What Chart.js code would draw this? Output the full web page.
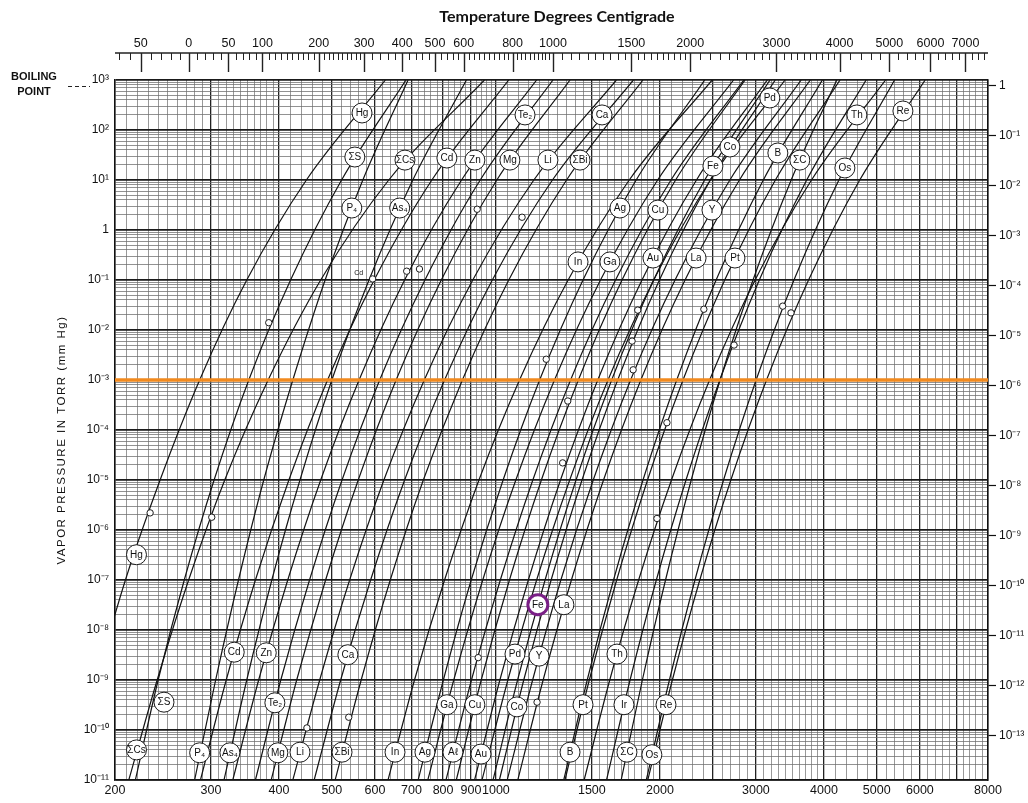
<!DOCTYPE html>
<html>
<head>
<meta charset="utf-8">
<script src="https://cdn.jsdelivr.net/npm/chart.js@4.4.0/dist/chart.umd.min.js"></script>
<style>
  html, body { margin: 0; padding: 0; background: #fff; }
  canvas { display: block; }
</style>
</head>
<body>
<canvas id="chart" width="1028" height="803"></canvas>
<script>
// pressures (torr) at which the temperature of every curve was read
const levels = [1e-11, 1e-9, 1e-7, 1e-5, 1e-3, 1e-1, 1e1, 1e3];

// temperature in K of each element at the pressures above
const tHg  = [166, 185, 209, 242, 286, 349, 449, 627];
const tS   = [218, 240, 268, 304, 352, 420, 521, 684];
const tCs  = [212, 239, 273, 318, 382, 477, 636, 953];
const tP4  = [280, 306, 337, 375, 424, 486, 570, 690];
const tAs4 = [317, 349, 388, 437, 500, 585, 704, 883];
const tCd  = [287, 320, 362, 417, 491, 598, 763, 1056];
const tZn  = [329, 367, 415, 477, 561, 680, 865, 1188];
const tTe2 = [362, 403, 455, 522, 612, 741, 936, 1273];
const tMg  = [387, 431, 487, 559, 656, 794, 1004, 1368];
const tLi  = [424, 475, 539, 623, 739, 907, 1174, 1664];
const tBi  = [507, 566, 640, 736, 868, 1056, 1348, 1862];
const tCa  = [464, 519, 589, 680, 805, 985, 1270, 1788];
const tIn  = [634, 709, 805, 931, 1105, 1357, 1757, 2494];
const tAg  = [720, 801, 901, 1031, 1203, 1445, 1809, 2417];
const tGa  = [750, 837, 946, 1088, 1281, 1556, 1981, 2730];
const tAl  = [810, 902, 1019, 1169, 1371, 1658, 2096, 2851];
const tCu  = [846, 940, 1059, 1212, 1417, 1704, 2137, 2866];
const tAu  = [914, 1017, 1147, 1314, 1538, 1854, 2334, 3148];
const tPd  = [943, 1052, 1188, 1366, 1606, 1948, 2475, 3394];
const tY   = [1049, 1168, 1316, 1509, 1767, 2132, 2688, 3633];
const tFe  = [988, 1096, 1231, 1403, 1631, 1948, 2417, 3185];
const tLa  = [1097, 1221, 1376, 1576, 1845, 2224, 2799, 3776];
const tCo  = [1015, 1125, 1263, 1439, 1673, 1996, 2475, 3256];
const tB   = [1332, 1471, 1644, 1862, 2147, 2536, 3096, 3973];
const tPt  = [1339, 1484, 1666, 1898, 2205, 2630, 3258, 4281];
const tTh  = [1452, 1618, 1828, 2100, 2467, 2990, 3795, 5190];
const tIr  = [1596, 1763, 1970, 2233, 2576, 3044, 3719, 4780];
const tC   = [1698, 1857, 2048, 2283, 2579, 2964, 3483, 4223];
const tOs  = [1888, 2082, 2319, 2617, 3003, 3524, 4261, 5391];
const tRe  = [1900, 2108, 2367, 2699, 3138, 3748, 4653, 6135];

const curves = [tHg, tS, tCs, tP4, tAs4, tCd, tZn, tTe2, tMg, tLi, tBi, tCa, tIn, tAg, tGa,
                tAl, tCu, tAu, tPd, tY, tFe, tLa, tCo, tB, tPt, tTh, tIr, tC, tOs, tRe];

// circled element names: text, temperature (K), pressure (torr)
const tagText = ['Hg','ΣS','ΣCs','P₄','As₄','Cd','Zn','Te₂','Mg','Li','Ca','ΣBi','In','Ag','Ga','Aℓ','Cu','Au',
                 'Pd','Y','Fe','La','Co','B','Pt','Th','Ir','ΣC','Os','Re',
                 'Hg','Te₂','Ca','Pd','Th','Re','ΣS','ΣCs','Cd','Zn','Mg','Li','ΣBi','Co','Fe','B','ΣC','Os',
                 'P₄','As₄','Ag','Cu','Y','In','Ga','Au','La','Pt'];
const tagT = [219, 246, 219, 286, 325, 331, 379, 393, 398, 437, 535, 522, 653, 741, 813, 834, 915, 939,
              1084, 1200, 1194, 1333, 1093, 1368, 1445, 1668, 1718, 1740, 1933, 2052,
              568, 1131, 1566, 3182, 4597, 5584, 551, 681, 813, 915, 1061, 1246, 1427, 2688, 2502, 3292, 3612, 4370,
              544, 666, 1689, 1983, 2492, 1415, 1619, 1942, 2330, 2746];
const tagP = [3.2e-7, 3.6e-10, 4e-11, 3.5e-11, 3.5e-11, 3.6e-9, 3.5e-9, 3.5e-10, 3.5e-11, 3.6e-11, 3.2e-9, 3.6e-11,
              3.6e-11, 3.6e-11, 3.2e-10, 3.6e-11, 3.2e-10, 3.3e-11,
              3.3e-9, 3.0e-9, 3.2e-8, 3.2e-8, 2.9e-10, 3.6e-11, 3.2e-10, 3.3e-9, 3.2e-10, 3.6e-11, 3.2e-11, 3.2e-10,
              219, 200, 200, 437, 200, 240, 28.8, 25, 27.5, 25, 25, 25, 25, 45.7, 19, 34.7, 25, 17.4,
              2.75, 2.75, 2.75, 2.5, 2.5, 0.23, 0.23, 0.275, 0.275, 0.275];
const highlighted = 20; // the ringed Fe label

// small open circles (melting points)
const meltT = [232, 301, 383, 594, 686, 724, 924, 1117, 1237, 1355, 1821, 1778, 1786, 2060, 1975,
               928, 1190, 1326, 537, 450, 2408, 2736, 3360, 3480];
const meltP = [2.2e-6, 1.8e-6, 1.4e-2, 0.105, 0.15, 0.166, 2.6, 1.8, 2.6e-3, 3.8e-4, 0.025, 6e-3, 1.6e-3, 1.4e-4, 1.7e-6,
               2.8e-9, 3.6e-10, 2.2e-5, 1.8e-10, 1.1e-10, 0.026, 5e-3, 0.03, 0.022];

const refPressure = 1e-3;   // orange line

const kelvinLabels = [200, 300, 400, 500, 600, 700, 800, 900, 1000, 1500, 2000, 3000, 4000, 5000, 6000, 8000];
const celsiusTicks = [-50, 0, 50, 100, 200, 300, 400, 500, 600, 800, 1000, 1500, 2000, 3000, 4000, 5000, 6000, 7000];
const celsiusText  = ['50', '0', '50', '100', '200', '300', '400', '500', '600', '800', '1000', '1500', '2000', '3000', '4000', '5000', '6000', '7000'];

// ---- grid positions
function kelvinGrid() {
  const v = [];
  for (let t = 200; t < 400; t += 10) v.push(t);
  for (let t = 400; t < 1000; t += 20) v.push(t);
  for (let t = 1000; t < 2000; t += 50) v.push(t);
  for (let t = 2000; t < 4000; t += 100) v.push(t);
  for (let t = 4000; t <= 8000; t += 200) v.push(t);
  return v;
}
const kelvinMajor = [200, 300, 400, 500, 600, 700, 800, 900, 1000, 1500, 2000, 2500, 3000, 4000, 5000, 6000, 7000, 8000];

function pressureGrid() {
  const v = [];
  for (let e = -11; e < 3; e++) for (let m = 1; m < 10; m++) v.push(Number((m * Math.pow(10, e)).toPrecision(3)));
  v.push(1000);
  return v;
}
const sup = {'-': '⁻', '0': '⁰', '1': '¹', '2': '²', '3': '³', '4': '⁴', '5': '⁵', '6': '⁶', '7': '⁷', '8': '⁸', '9': '⁹'};
function decadeLabel(v) {
  const e = Math.round(Math.log10(v));
  if (Math.abs(v / Math.pow(10, e) - 1) > 1e-6) return '';
  if (e === 0) return '1';
  return '10' + String(e).split('').map(c => sup[c]).join('');
}
const isDecade = v => decadeLabel(v) !== '';

// ---- datasets
const datasets = curves.map(t => ({
  data: t.map((k, i) => ({x: k, y: levels[i]})),
  borderColor: '#141414',
  borderWidth: 1.2,
  pointRadius: 0,
  cubicInterpolationMode: 'monotone',
  order: 3
}));

datasets.push({
  data: [{x: 200, y: refPressure}, {x: 8000, y: refPressure}],
  borderColor: '#f28a1e',
  borderWidth: 3.5,
  pointRadius: 0,
  order: 2
});

datasets.push({
  data: meltT.map((k, i) => ({x: k, y: meltP[i]})),
  showLine: false,
  pointRadius: 3.2,
  pointBackgroundColor: '#fff',
  pointBorderColor: '#1b1b1b',
  pointBorderWidth: 1,
  order: 1
});

datasets.push({
  data: tagT.map((k, i) => ({x: k, y: tagP[i]})),
  showLine: false,
  pointRadius: 10,
  pointBackgroundColor: '#fff',
  pointBorderColor: tagT.map((k, i) => i === highlighted ? '#7a1f86' : '#1b1b1b'),
  pointBorderWidth: tagT.map((k, i) => i === highlighted ? 3 : 1),
  order: 0,
  tags: tagText
});

// ---- texts and the Celsius ruler
const extras = {
  id: 'extras',
  afterDatasetsDraw(chart) {
    const ctx = chart.ctx;
    const ds = chart.data.datasets;
    const last = ds.length - 1;
    const meta = chart.getDatasetMeta(last);
    ctx.save();
    ctx.fillStyle = '#111';
    ctx.font = '10px "Liberation Sans", Arial, sans-serif';
    ctx.textAlign = 'center';
    ctx.textBaseline = 'middle';
    meta.data.forEach((pt, i) => ctx.fillText(ds[last].tags[i], pt.x, pt.y + 0.5));
    // small "Cd" note by the melting point
    const sx = chart.scales.x, sy = chart.scales.y;
    ctx.font = '7px "Liberation Sans", Arial, sans-serif';
    ctx.fillText('Cd', sx.getPixelForValue(560), sy.getPixelForValue(0.14));
    ctx.restore();
  },
  afterDraw(chart) {
    const {ctx, chartArea: a} = chart;
    const sx = chart.scales.x;
    ctx.save();
    ctx.fillStyle = '#111';
    ctx.strokeStyle = '#222';
    ctx.textBaseline = 'middle';

    ctx.font = 'bold 16px Lato, "Open Sans", sans-serif';
    ctx.textAlign = 'center';
    ctx.fillText('Temperature Degrees Centigrade', 557, 17);

    // ruler line
    const ry = 53;
    ctx.lineWidth = 1.4;
    ctx.beginPath(); ctx.moveTo(a.left, ry); ctx.lineTo(a.right, ry); ctx.stroke();
    // minor ticks
    const minor = [];
    for (let c = -70; c < 300; c += 10) minor.push(c);
    for (let c = 300; c < 1000; c += 20) minor.push(c);
    for (let c = 1000; c < 2000; c += 50) minor.push(c);
    for (let c = 2000; c < 4000; c += 100) minor.push(c);
    for (let c = 4000; c < 7800; c += 200) minor.push(c);
    ctx.lineWidth = 1;
    ctx.beginPath();
    minor.forEach(c => {
      const px = Math.round(sx.getPixelForValue(c + 273)) + 0.5;
      if (px < a.left || px > a.right) return;
      ctx.moveTo(px, ry); ctx.lineTo(px, ry + 7);
    });
    ctx.stroke();
    ctx.lineWidth = 1.4;
    ctx.beginPath();
    celsiusTicks.forEach(c => {
      const px = Math.round(sx.getPixelForValue(c + 273)) + 0.5;
      ctx.moveTo(px, ry); ctx.lineTo(px, ry + 19);
    });
    ctx.stroke();
    ctx.font = '12.5px "Liberation Sans", Arial, sans-serif';
    celsiusTicks.forEach((c, i) => ctx.fillText(celsiusText[i], sx.getPixelForValue(c + 273), 44));

    // boiling point note
    ctx.font = 'bold 11px "Liberation Sans", Arial, sans-serif';
    ctx.fillText('BOILING', 34, 77);
    ctx.fillText('POINT', 34, 92);
    ctx.setLineDash([4, 3]);
    ctx.lineWidth = 1;
    ctx.beginPath(); ctx.moveTo(68, 86.5); ctx.lineTo(90, 86.5); ctx.stroke();
    ctx.setLineDash([]);

    // y axis title
    ctx.translate(62, 440);
    ctx.rotate(-Math.PI / 2);
    ctx.font = '11.5px "Liberation Sans", Arial, sans-serif';
    ctx.letterSpacing = '1.5px';
    ctx.fillText('VAPOR PRESSURE IN TORR (mm Hg)', 0, 0);
    ctx.restore();
  }
};

const kGrid = kelvinGrid();
const pGrid = pressureGrid();
const atmTicks = [];
for (let e = 0; e >= -13; e--) atmTicks.push(Number(Math.pow(10, e).toPrecision(3)));

new Chart(document.getElementById('chart'), {
  type: 'line',
  data: { datasets },
  plugins: [extras],
  options: {
    responsive: false,
    animation: false,
    layout: { padding: { top: 80, left: 0, right: 0, bottom: 0 } },
    plugins: { legend: { display: false }, tooltip: { enabled: false } },
    scales: {
      x: {
        type: 'logarithmic', position: 'bottom', min: 200, max: 8000,
        afterBuildTicks: s => { s.ticks = kGrid.map(v => ({value: v})); },
        afterFit: s => { s.height = 23; },
        ticks: {
          autoSkip: false, maxRotation: 0, padding: 3, color: '#111',
          font: { size: 12.5, family: '"Liberation Sans", Arial, sans-serif' },
          callback: v => kelvinLabels.includes(v) ? String(v) : ''
        },
        grid: {
          drawTicks: false,
          color: c => kelvinMajor.includes(c.tick && c.tick.value) ? '#222' : '#777',
          lineWidth: c => kelvinMajor.includes(c.tick && c.tick.value) ? 1.3 : 0.75
        },
        border: { color: '#111', width: 1.5 }
      },
      y: {
        type: 'logarithmic', position: 'left', min: 1e-11, max: 1e3,
        afterBuildTicks: s => { s.ticks = pGrid.map(v => ({value: v})); },
        afterFit: s => { s.width = 115; },
        ticks: {
          autoSkip: false, padding: 6, color: '#111',
          font: { size: 12, family: '"Liberation Sans", Arial, sans-serif' },
          callback: v => decadeLabel(v)
        },
        grid: {
          drawTicks: false,
          color: c => isDecade(c.tick ? c.tick.value : 2) ? '#1a1a1a' : '#6e6e6e',
          lineWidth: c => isDecade(c.tick ? c.tick.value : 2) ? 1.7 : 0.75
        },
        border: { color: '#111', width: 1.5 }
      },
      yR: {
        type: 'logarithmic', position: 'right', min: 1e-11 / 760, max: 1e3 / 760,
        afterBuildTicks: s => { s.ticks = atmTicks.map(v => ({value: v})); },
        afterFit: s => { s.width = 40; },
        ticks: {
          autoSkip: false, padding: 3, color: '#111',
          font: { size: 12, family: '"Liberation Sans", Arial, sans-serif' },
          callback: v => decadeLabel(v)
        },
        grid: { drawOnChartArea: false, tickLength: 8, tickColor: '#111', tickWidth: 1.2 },
        border: { color: '#111', width: 1.5 }
      }
    }
  }
});
</script>
</body>
</html>
